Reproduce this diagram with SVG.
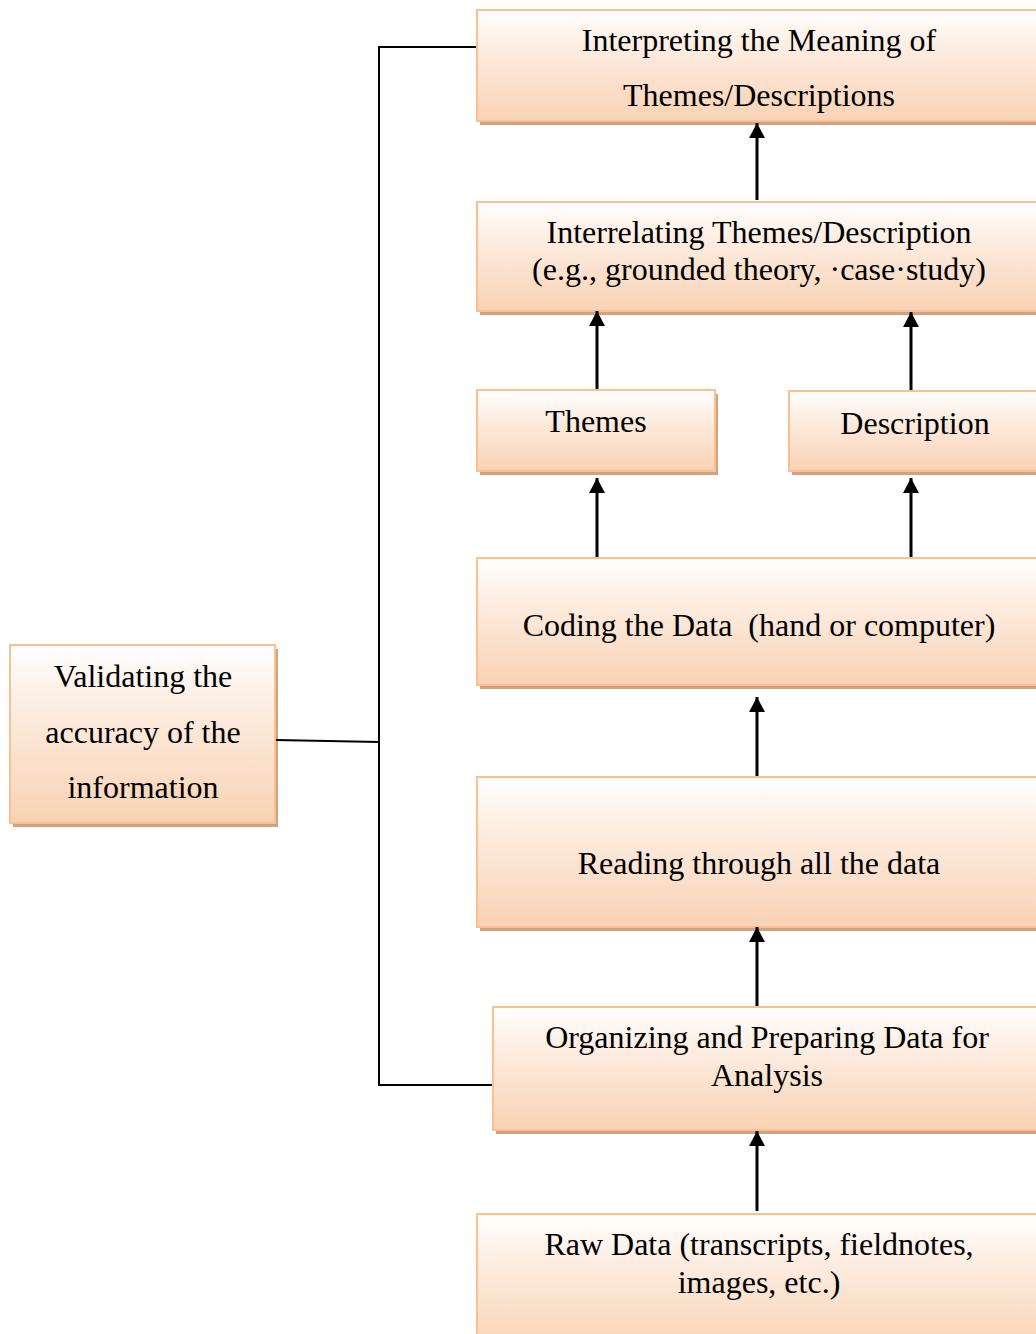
<svg xmlns="http://www.w3.org/2000/svg" width="1036" height="1334" viewBox="0 0 1036 1334">
<defs>
<linearGradient id="g" x1="0" y1="0" x2="0" y2="1">
<stop offset="0" stop-color="#FFFFFF"/>
<stop offset="0.3" stop-color="#FDEFE5"/>
<stop offset="1" stop-color="#F9D2B4"/>
</linearGradient>
<marker id="ah" markerWidth="15" markerHeight="16" refX="15" refY="8" orient="auto" markerUnits="userSpaceOnUse" viewBox="0 0 15 16">
<path d="M0,0 L15,8 L0,16 Z" fill="#000"/>
</marker>
<style>
.sh{fill:#CFA283}
.bx{fill:url(#g);stroke:#FBC08F;stroke-width:2}
.t{font-family:'Liberation Serif',serif;font-size:32px;fill:#000;text-anchor:middle}
.c{stroke:#000;stroke-width:2;fill:none}
.a{stroke:#000;stroke-width:3;fill:none;marker-end:url(#ah)}
</style>
</defs>
<rect width="1036" height="1334" fill="#fff"/>
<g id="interpreting">
<rect class="sh" x="480" y="14" width="570" height="111"/>
<rect class="bx" x="477" y="10" width="570" height="111"/>
<text class="t" x="759" y="51">Interpreting the Meaning of</text>
<text class="t" x="759" y="106">Themes/Descriptions</text>
</g>
<g id="interrelating">
<rect class="sh" x="480" y="206" width="570" height="109"/>
<rect class="bx" x="477" y="202" width="570" height="109"/>
<text class="t" x="759" y="243">Interrelating Themes/Description</text>
<text class="t" x="759" y="280">(e.g., grounded theory, ·case·study)</text>
</g>
<g id="themes">
<rect class="sh" x="480" y="394" width="238" height="81"/>
<rect class="bx" x="477" y="390" width="238" height="81"/>
<text class="t" x="596" y="432">Themes</text>
</g>
<g id="description">
<rect class="sh" x="792" y="395" width="260" height="80"/>
<rect class="bx" x="789" y="391" width="260" height="80"/>
<text class="t" x="915" y="434">Description</text>
</g>
<g id="coding">
<rect class="sh" x="480" y="562" width="570" height="127"/>
<rect class="bx" x="477" y="558" width="570" height="127"/>
<text class="t" x="759" y="636" xml:space="preserve">Coding the Data  (hand or computer)</text>
</g>
<g id="reading">
<rect class="sh" x="480" y="781" width="570" height="150"/>
<rect class="bx" x="477" y="777" width="570" height="150"/>
<text class="t" x="759" y="874">Reading through all the data</text>
</g>
<g id="organizing">
<rect class="sh" x="496" y="1011" width="560" height="123"/>
<rect class="bx" x="493" y="1007" width="560" height="123"/>
<text class="t" x="767" y="1048">Organizing and Preparing Data for</text>
<text class="t" x="767" y="1086">Analysis</text>
</g>
<g id="rawdata">
<rect class="bx" x="477" y="1214" width="570" height="140"/>
<text class="t" x="759" y="1255">Raw Data (transcripts, fieldnotes,</text>
<text class="t" x="759" y="1293">images, etc.)</text>
</g>
<g id="validating">
<rect class="sh" x="13" y="649" width="265" height="178"/>
<rect class="bx" x="10" y="645" width="265" height="178"/>
<text class="t" x="143" y="687">Validating the</text>
<text class="t" x="143" y="743">accuracy of the</text>
<text class="t" x="143" y="798">information</text>
</g>
<g id="connectors">
<polyline class="c" points="476,47 379,47 379,1085 492,1085"/>
<line class="c" x1="276" y1="740" x2="379" y2="742"/>
<line class="a" x1="757" y1="200" x2="757" y2="123"/>
<line class="a" x1="597" y1="389" x2="597" y2="311"/>
<line class="a" x1="911" y1="390" x2="911" y2="312"/>
<line class="a" x1="597" y1="557" x2="597" y2="478"/>
<line class="a" x1="911" y1="557" x2="911" y2="478"/>
<line class="a" x1="757" y1="776" x2="757" y2="697"/>
<line class="a" x1="757" y1="1006" x2="757" y2="927"/>
<line class="a" x1="757" y1="1211" x2="757" y2="1131"/>
</g>
</svg>
